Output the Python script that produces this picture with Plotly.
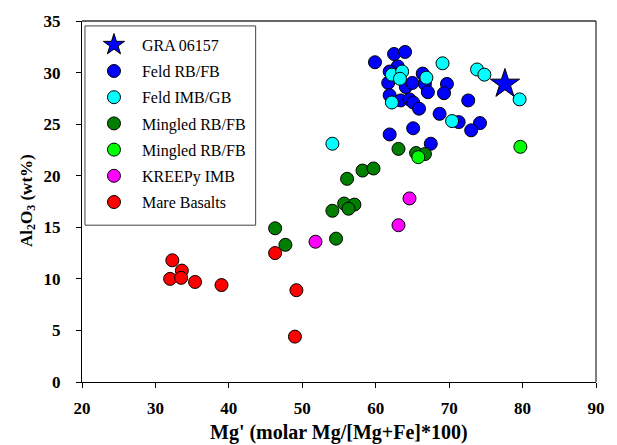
import plotly.graph_objects as go

# Mg' (molar Mg/[Mg+Fe]*100) and Al2O3 (wt%) for each sample group
gra_x = [77.6]
gra_y = [28.9]

feld_rb_x = [59.9, 62.5, 64.0, 63.0, 61.9, 61.7, 64.1, 65.0, 66.4, 66.7, 67.1, 69.7, 69.3,
             61.9, 63.4, 64.6, 65.1, 65.9, 72.6, 68.7, 71.3, 74.2, 73.0, 65.1, 61.9, 67.5]
feld_rb_y = [31.0, 31.8, 32.0, 30.6, 30.1, 29.0, 28.6, 29.0, 29.9, 28.9, 28.1, 28.9, 28.0,
             27.8, 27.3, 27.4, 27.1, 26.5, 27.3, 26.0, 25.2, 25.1, 24.4, 24.6, 24.0, 23.1]

feld_imb_x = [62.2, 63.6, 63.3, 66.9, 69.1, 73.8, 74.8, 79.6, 62.2, 70.4, 54.1]
feld_imb_y = [29.8, 30.1, 29.4, 29.5, 30.9, 30.3, 29.8, 27.4, 27.1, 25.3, 23.1]

mingled_dk_x = [63.1, 65.5, 66.7, 58.2, 59.7, 56.1, 55.7, 57.1, 56.3, 54.1, 46.3, 47.7, 54.6]
mingled_dk_y = [22.6, 22.2, 22.1, 20.5, 20.7, 19.7, 17.3, 17.2, 16.8, 16.6, 14.9, 13.3, 13.9]

mingled_lt_x = [65.8, 79.7]
mingled_lt_y = [21.8, 22.8]

kreep_x = [64.6, 63.1, 51.8]
kreep_y = [17.8, 15.2, 13.6]

mare_x = [32.3, 33.6, 32.0, 33.5, 35.4, 39.0, 46.3, 49.2, 49.0]
mare_y = [11.8, 10.8, 10.0, 10.1, 9.7, 9.4, 12.5, 8.9, 4.4]

x_ticks = [20, 30, 40, 50, 60, 70, 80, 90]
y_ticks = [0, 5, 10, 15, 20, 25, 30, 35]

series = [
    ("GRA 06157", gra_x, gra_y, "#0000FF", "star"),
    ("Feld RB/FB", feld_rb_x, feld_rb_y, "#0000FF", "circle"),
    ("Feld IMB/GB", feld_imb_x, feld_imb_y, "#00FFFF", "circle"),
    ("Mingled RB/FB", mingled_dk_x, mingled_dk_y, "#007F00", "circle"),
    ("Mingled RB/FB", mingled_lt_x, mingled_lt_y, "#00FF00", "circle"),
    ("KREEPy IMB", kreep_x, kreep_y, "#FF00FF", "circle"),
    ("Mare Basalts", mare_x, mare_y, "#FF0000", "circle"),
]

serif = "Liberation Serif, Times New Roman, serif"

# plot area in pixels: x 82..600, y 16..382
W, H = 617, 445
L, R, T, B = 82, 17, 16, 63
pw, ph = W - L - R, H - T - B


def px_x(p):
    return (p - L) / pw


def px_y(p):
    return (H - B - p) / ph


fig = go.Figure()
for i, (name, xs, ys, color, symbol) in enumerate(series):
    fig.add_trace(go.Scatter(
        x=xs, y=ys, mode="markers", name=name,
        legendgroup=f"g{i}",
        marker=dict(
            symbol=symbol, color=color,
            size=22 if symbol == "star" else 13,
            line=dict(color="#000000", width=1),
        ),
    ))

tick_font = dict(family=serif, size=17, color="#000000", weight="bold")

fig.update_layout(
    width=W, height=H,
    margin=dict(l=L, r=R, t=T, b=B),
    paper_bgcolor="white", plot_bgcolor="white",
    showlegend=True,
    legend=dict(
        x=px_x(86), y=px_y(23), xanchor="left", yanchor="top",
        borderwidth=0, bgcolor="rgba(0,0,0,0)",
        font=dict(family=serif, size=16, color="#000000"),
        traceorder="grouped", tracegroupgap=2.4,
        itemwidth=46,
    ),
    xaxis=dict(
        range=[20, 90], tickvals=x_ticks, ticktext=[str(v) for v in x_ticks],
        showgrid=False, zeroline=False,
        showline=True, linecolor="#000000", linewidth=1,
        ticks="outside", ticklen=5, tickcolor="#000000",
        ticklabelstandoff=6,
        tickfont=tick_font,
    ),
    yaxis=dict(
        range=[0, 35], tickvals=y_ticks, ticktext=[str(v) for v in y_ticks],
        showgrid=False, zeroline=False,
        showline=True, linecolor="#000000", linewidth=1,
        ticks="outside", ticklen=5, tickcolor="#000000",
        ticklabelstandoff=12,
        tickfont=tick_font,
    ),
    annotations=[
        dict(text="<b>Mg' (molar Mg/[Mg+Fe]*100)</b>", xref="paper", yref="paper",
             x=0.5, y=px_y(433), xanchor="center", yanchor="middle", showarrow=False,
             font=dict(family=serif, size=20, color="#000000")),
        dict(text="<b>Al<sub>2</sub>O<sub>3</sub> (wt%)</b>", xref="paper", yref="paper",
             x=px_x(27), y=px_y(198), xanchor="center", yanchor="middle", showarrow=False,
             textangle=-90,
             font=dict(family=serif, size=17, color="#000000")),
    ],
    shapes=[
        dict(type="line", xref="paper", yref="paper", x0=0, x1=1, y0=1, y1=1,
             line=dict(color="#666666", width=2)),
        dict(type="line", xref="paper", yref="paper", x0=1, x1=1, y0=0, y1=1,
             line=dict(color="#000000", width=1)),
        dict(type="rect", xref="paper", yref="paper",
             x0=px_x(85), x1=px_x(257), y0=px_y(223), y1=px_y(21),
             line=dict(color="#444444", width=1), layer="below"),
    ],
)

fig.write_html("out.html")
